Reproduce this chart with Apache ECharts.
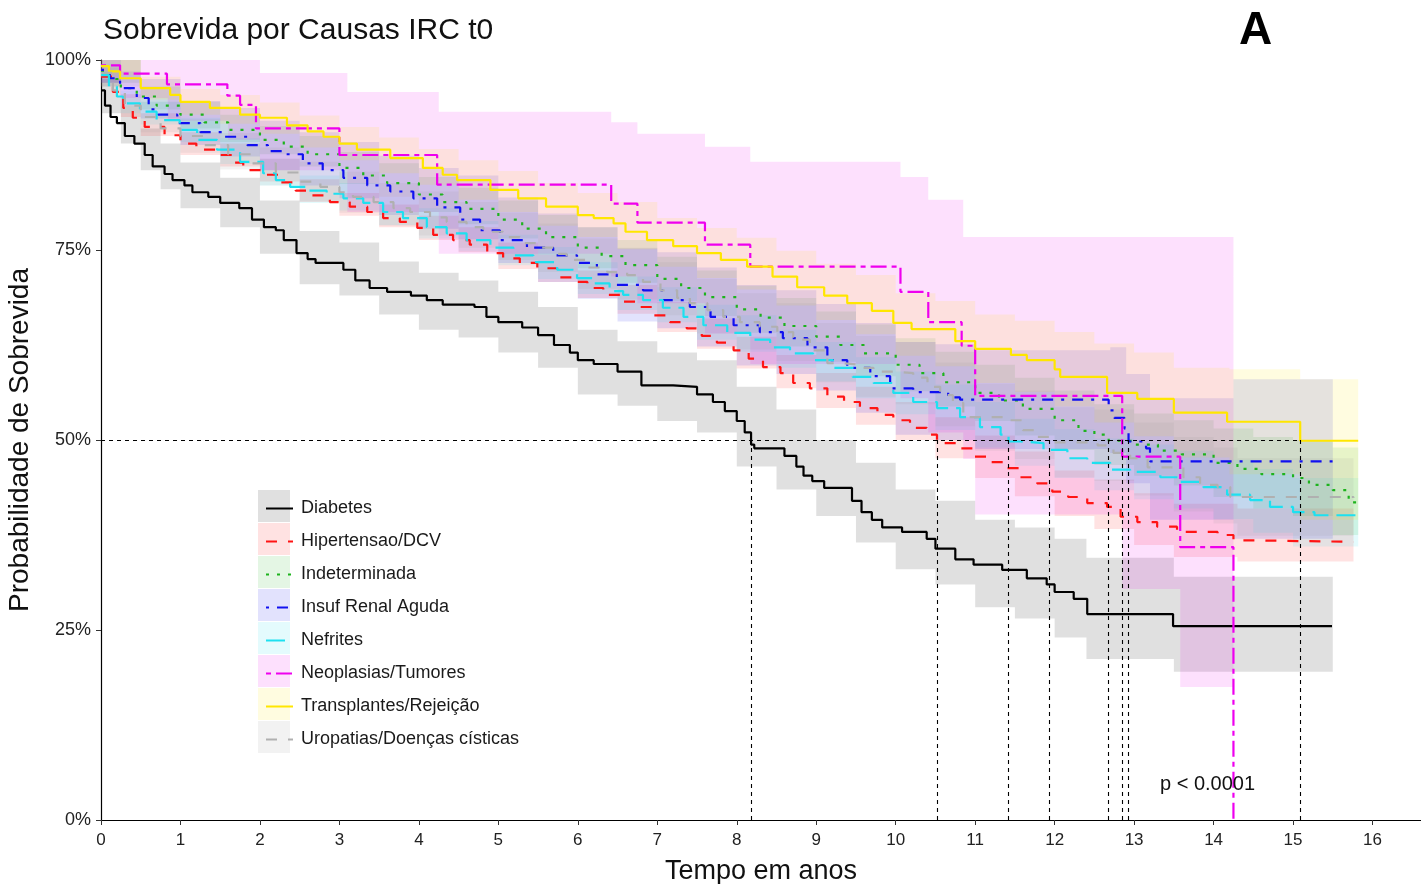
<!DOCTYPE html>
<html><head><meta charset="utf-8">
<script src="https://cdn.jsdelivr.net/npm/echarts@6/dist/echarts.min.js"></script>
<style>html,body{margin:0;padding:0;background:#fff}#c{width:1421px;height:884px}</style>
</head><body><div id="c"></div>
<script>
// ---------- labels ----------
const names = ['Diabetes','Hipertensao/DCV','Indeterminada','Insuf Renal Aguda','Nefrites','Neoplasias/Tumores','Transplantes/Rejeição','Uropatias/Doenças císticas'];
const xTicks = [0,1,2,3,4,5,6,7,8,9,10,11,12,13,14,15,16];
const yTicks = [0,25,50,75,100];
const medians = [8.18,10.52,11.42,11.93,12.68,12.85,12.93,15.09];

// ---------- survival curves [time, %] ----------
const diabetes = [[0,96],[0.05,94],[0.12,92.5],[0.2,91.7],[0.3,90],[0.42,89],[0.55,87.5],[0.65,86],[0.8,85],[0.9,84.2],[1.05,83.5],[1.15,82.6],[1.35,82],[1.5,81.2],[1.74,80.5],[1.9,79],[2.05,78],[2.2,77.6],[2.3,76.3],[2.46,74.6],[2.6,73.8],[2.7,73.3],[3.05,72.4],[3.2,71],[3.38,70],[3.6,69.5],[3.9,69],[4.1,68.4],[4.3,67.8],[4.7,67.5],[4.85,66.2],[5.0,65.5],[5.3,64.8],[5.5,63.8],[5.7,62.5],[5.9,61.5],[6.0,60.5],[6.2,60],[6.5,59],[6.8,57.2],[7.2,57],[7.5,56],[7.7,55],[7.85,53.8],[8.0,52.5],[8.1,51],[8.18,49.4],[8.22,48.9],[8.6,47.9],[8.75,46.5],[8.84,45.3],[8.95,44.6],[9.1,43.7],[9.45,42],[9.57,40.5],[9.7,39.5],[9.83,38.5],[10.08,37.9],[10.39,37],[10.5,35.7],[10.75,34.3],[10.98,33.6],[11.34,32.9],[11.65,31.8],[11.9,31],[12.0,30],[12.24,29.1],[12.41,27.1],[13.49,25.5],[15.49,25.5]];
const hipertensao = [[0,97.8],[0.15,95.8],[0.28,93.7],[0.4,92.4],[0.55,91.2],[0.8,90.1],[1.0,89],[1.2,88.2],[1.46,87.5],[1.65,86.5],[1.79,85.5],[2.05,84.9],[2.25,83.9],[2.45,82.8],[2.63,82.2],[2.88,81.3],[3.13,80.7],[3.35,80],[3.55,79.2],[3.76,78.7],[3.98,77.9],[4.18,77],[4.43,76.3],[4.64,75.7],[4.86,74.6],[5.06,73.9],[5.27,73.3],[5.49,72.6],[5.74,71.4],[5.94,70.8],[6.12,70],[6.32,69.1],[6.53,68.2],[6.76,67.5],[6.95,66.4],[7.16,65.5],[7.37,64.7],[7.56,63.7],[7.75,62.8],[7.96,61.8],[8.15,60.7],[8.33,59.6],[8.55,58.8],[8.71,57.5],[8.92,56.8],[9.14,55.7],[9.35,55],[9.55,54.2],[9.77,53.3],[9.97,52.6],[10.18,51.6],[10.39,50.7],[10.52,49.6],[10.77,48.9],[10.98,47.8],[11.19,47.1],[11.38,46.3],[11.57,45.1],[11.78,44.3],[11.97,43.2],[12.17,42.5],[12.41,41.7],[12.66,41.2],[12.83,39.9],[13.04,39.2],[13.29,38.6],[13.54,37.9],[14.05,37.5],[14.25,36.8],[14.46,36.6],[15.76,36.6]];
const indeterminada = [[0,98.5],[0.1,97.5],[0.25,96.3],[0.45,95.2],[0.7,94],[1.0,92.8],[1.3,91.8],[1.6,90.8],[2.0,89.5],[2.3,88.6],[2.6,87.6],[3.0,85.8],[3.3,84.8],[3.6,83.8],[4.0,82.3],[4.3,81.3],[4.6,80.4],[5.0,79],[5.3,77.8],[5.6,76.7],[6.0,75.3],[6.3,74.2],[6.6,73],[7.0,71.2],[7.3,70],[7.6,68.8],[8.0,67.2],[8.3,66.1],[8.6,65],[9.0,63.6],[9.3,62.5],[9.6,61.4],[10.0,59.9],[10.3,58.8],[10.6,57.6],[11.0,56.2],[11.3,55.2],[11.6,54.1],[12.0,52.6],[12.3,51.2],[12.5,50.7],[12.68,49.9],[13.0,49.4],[13.3,48.6],[13.6,48.1],[14.0,47],[14.3,46.2],[14.6,45.5],[15.0,45],[15.2,44.1],[15.5,43.4],[15.7,41.8],[15.82,41.8]];
const insufRenal = [[0,98.7],[0.11,97.6],[0.24,96.3],[0.45,95],[0.6,93.5],[0.72,92.8],[0.96,91.7],[1.25,90.5],[1.55,89.9],[1.84,88.8],[2.1,88],[2.3,87.6],[2.54,86.4],[2.79,85.5],[3.05,84.5],[3.35,83.5],[3.64,82.7],[3.93,81.8],[4.23,80.6],[4.52,79],[4.77,77.6],[5.02,76.3],[5.36,75.3],[5.69,74.3],[5.99,73.3],[6.24,71.8],[6.49,70.4],[6.82,69.7],[7.07,68.4],[7.41,67.5],[7.67,66.2],[7.96,65.1],[8.29,64.2],[8.58,63.4],[8.89,62.2],[9.14,60.5],[9.39,59.5],[9.68,58.4],[9.93,56.8],[10.22,56.3],[10.66,55.6],[10.81,55.3],[12.68,53.9],[12.75,52.9],[12.88,51.5],[12.93,49.8],[13.15,48.9],[13.2,47.2],[15.5,47.2]];
const nefrites = [[0,98],[0.1,96.5],[0.2,95.2],[0.28,94.3],[0.49,93.2],[0.7,92.1],[0.99,90.8],[1.21,89.5],[1.46,88.2],[1.75,86.6],[2.04,85.1],[2.2,84.2],[2.38,83.3],[2.6,82.8],[2.84,82.4],[3.05,81.8],[3.3,81.2],[3.55,80],[3.8,79.2],[4.1,78],[4.35,77.2],[4.6,76.3],[4.9,75.3],[5.19,74.3],[5.44,73.4],[5.74,72.4],[5.99,71.3],[6.19,70.6],[6.4,69.6],[6.57,69.1],[6.82,68.4],[7.07,67.4],[7.33,66.2],[7.58,65.1],[7.88,64.1],[8.17,63.2],[8.42,62.2],[8.67,61.4],[8.96,60.5],[9.21,59.5],[9.46,58.3],[9.72,57.5],[9.97,56.2],[10.22,55],[10.52,54.2],[10.81,53],[11.06,51.7],[11.32,50.7],[11.42,49.8],[11.57,49.6],[11.86,48.7],[12.16,47.6],[12.41,47],[12.7,46.1],[12.95,45.8],[13.33,45.1],[13.58,44.5],[13.87,43.8],[14.17,42.8],[14.46,42.1],[14.71,41.2],[15.0,40.5],[15.27,40.1],[15.82,40.1]];
const neoplasias = [[0,99.3],[0.24,98.2],[0.83,96.8],[1.59,95.3],[1.75,94.1],[1.95,91.0],[3.0,87.5],[4.23,83.6],[6.42,81.1],[6.75,78.6],[7.6,75.7],[8.17,72.8],[10.06,69.5],[10.41,65.5],[10.83,62.4],[11.0,55.8],[12.85,47.8],[13.58,35.9],[14.25,0]];
const transplantes = [[0,99.2],[0.1,98.5],[0.24,97.6],[0.5,96.3],[0.87,95.4],[1.0,94.5],[1.37,93.7],[1.75,92.8],[2.0,92.4],[2.34,91.4],[2.6,90.6],[2.8,89.9],[3.0,89],[3.22,88.2],[3.64,87.1],[4.05,85.8],[4.3,84.9],[4.48,84.2],[4.9,82.9],[5.25,81.8],[5.6,80.7],[6.0,79.6],[6.2,79.2],[6.45,78.5],[6.6,77.4],[6.87,76.3],[7.2,75.5],[7.5,74.6],[7.8,73.7],[8.13,72.8],[8.45,71.5],[8.76,70.1],[9.1,69],[9.39,68],[9.7,67],[9.97,65.4],[10.2,64.6],[10.75,63],[11.0,62],[11.45,61.2],[11.65,60.5],[12.0,59.3],[12.07,58.3],[12.66,56.2],[13.04,55.4],[13.5,53.6],[14.17,52.4],[15.09,49.9],[15.82,49.9]];
const uropatias = [[0,98.3],[0.15,96],[0.3,94],[0.5,92.5],[0.75,91],[1.0,90],[1.3,88.8],[1.6,87.6],[1.9,86.4],[2.2,85.2],[2.5,84],[2.76,83.3],[3.0,82.6],[3.17,82],[3.43,81.3],[3.68,80.5],[3.89,80],[4.14,79.3],[4.35,78.7],[4.6,78],[4.81,77.4],[5.06,76.7],[5.27,75.9],[5.53,75.3],[5.7,74.5],[5.86,73.7],[6.12,72.7],[6.37,72.1],[6.62,71.7],[6.82,70.8],[7.04,69.7],[7.25,68.7],[7.41,68],[7.63,67.1],[7.83,66.2],[8.04,65.5],[8.29,64.9],[8.51,64.2],[8.71,63.2],[8.92,61.8],[9.14,60.1],[9.34,59.9],[9.55,59.5],[9.72,59],[9.97,58.8],[10.22,58.2],[10.4,57],[10.56,55.9],[10.72,54.9],[10.85,53],[11.4,52.6],[11.6,51.3],[11.78,50.4],[11.93,49.7],[12.54,49.3],[12.74,48.3],[12.95,47.6],[13.17,46.4],[13.62,45.1],[13.83,44.1],[14.05,43.8],[14.21,42.5],[15.76,42.4]];

// ---------- confidence bands [time, lower %, upper %] (last row = end) ----------
const bandDiabetes = [[0,93,97.5],[0.25,89,94],[0.5,85.5,91],[0.75,83,89],[1,80.5,86.5],[1.5,78,84.5],[2,74.5,81.5],[2.5,70.5,77.5],[3,69,76],[3.5,66.5,73.5],[4,64.5,72],[4.5,63.5,71],[5,61.5,69.5],[5.5,59.5,67.5],[6,56,64.5],[6.5,54.5,63],[7,52.5,61.5],[7.5,51,60.5],[8,46.5,57],[8.5,43.5,54],[9,40,50],[9.5,36.5,47],[10,33,43.5],[10.5,31,42],[11,28,39.5],[11.5,26.5,38.5],[12,24,37],[12.4,21.2,34.5],[13.5,19.5,32],[15.5,19.5,32]];
const bandHipertensao = [[0,96.5,99],[0.25,92.5,95.5],[0.5,90,93],[1,87.5,90.5],[1.5,86,89],[2,84,87],[2.5,81.3,84.3],[3,79.5,82.5],[3.5,78,81],[4,76.3,79.5],[4.5,74.7,78],[5,72.5,76],[5.5,70.8,74.4],[6,68.7,72.3],[6.5,66.6,70.4],[7,64.2,68.2],[7.5,62,66],[8,59.4,63.6],[8.5,56.8,61.2],[9,54.2,58.8],[9.5,52,57],[10,50,55],[10.5,47.6,53],[11,45,50.6],[11.5,42.6,48.5],[12,40,46],[12.5,38.3,44.8],[13,36.2,43],[13.5,34.6,41.6],[14.3,34,41],[15.76,34,41]];
const bandIndeterminada = [[0,97,100],[0.5,93.5,96.5],[1,91,94.5],[1.5,89.2,92.8],[2,87.6,91.3],[2.5,86,90],[3,83.7,87.9],[3.5,82,86.4],[4,80,84.6],[4.5,78.4,83.2],[5,76.5,81.5],[5.5,74.4,79.6],[6,72.6,78],[6.5,70.7,76.3],[7,68.3,74.1],[7.5,66.3,72.3],[8,64.1,70.3],[8.5,62.3,68.7],[9,60.3,66.9],[9.5,58.4,65.2],[10,56.4,63.4],[10.5,54.4,61.6],[11,52.5,59.9],[11.5,50.6,58.2],[12,48.7,56.5],[12.5,46.7,54.7],[13,45.3,53.5],[13.5,44,52.6],[14,42.5,51.5],[14.5,41,50.4],[15,40,50],[15.5,37.5,49],[15.82,37.5,49]];
const bandInsufRenal = [[0,97,100],[0.25,94,98.5],[0.5,92.3,97.5],[1,88.8,94.6],[1.5,87.3,93.7],[2,85.5,92],[2.5,83.5,90.5],[3,81.8,89.2],[3.5,79.6,87.4],[4,77.8,85.8],[4.5,76.4,84.8],[5,73.3,81.9],[5.5,70.8,79.8],[6,68.6,78],[6.5,65.6,75.2],[7,64.7,74.7],[7.5,62.3,72.7],[8,59.8,70.4],[8.5,58.7,69.7],[9,56.5,67.9],[9.5,53.6,65.4],[10,50.7,62.9],[10.5,50,62.6],[11,48.8,61.8],[12.7,48.3,62.2],[12.9,44.3,58.7],[13.2,39.5,55.5],[14.25,37,58],[15.5,37,58]];
const bandNefrites = [[0,96.5,99.5],[0.25,93,96],[0.5,91.5,94.5],[1,89.2,92.4],[1.5,86.3,89.7],[2,83.5,87],[2.5,81.2,84.8],[3,80.2,83.8],[3.5,78.3,82],[4,76.5,80.5],[4.5,74.8,78.8],[5,73,77],[5.5,71.2,75.4],[6,69.2,73.4],[6.5,67.1,71.5],[7,65.5,70.1],[7.5,63.2,67.8],[8,61.6,66.4],[8.5,59.5,64.5],[9,57.7,62.9],[9.5,55.5,60.9],[10,53.4,59],[10.5,51.3,57.3],[11,49,55],[11.5,46.6,52.8],[12,45,51.4],[12.5,43.4,50.2],[13,42.2,49.4],[13.5,41,48.6],[14,39.6,47.4],[14.5,37.8,46.2],[15,36,45],[15.82,36,45]];
const bandNeoplasias = [[0,97,100],[0.24,95,100],[0.84,92,100],[1.6,89.5,100],[2.0,85.5,98.3],[3.1,80,95.8],[4.25,74.5,93.2],[6.42,71.5,91.8],[6.75,68,90.3],[7.6,64,88.6],[8.17,60,86.6],[10.06,55.5,84.6],[10.41,51,81.6],[10.85,47.5,76.7],[11.0,40.2,76.7],[12.85,30.4,76.7],[13.58,17.5,76.7],[14.25,17.5,76.7]];
const bandTransplantes = [[0,98,100],[0.5,94.8,97.8],[1,92.8,96.2],[1.5,91.6,95.4],[2,90.3,94.4],[2.5,88.5,92.7],[3,86.8,91.2],[3.5,85.1,89.8],[4,83.6,88.3],[4.5,81.6,86.8],[5,80,85.4],[5.5,78.2,83.8],[6,76.7,82.5],[6.5,75.1,81.3],[7,72.8,79.2],[7.5,71.3,77.9],[8,69.8,76.6],[8.5,67.7,74.9],[9,65.8,73.2],[9.5,63.9,71.7],[10,61.1,69.3],[10.5,59.7,68.3],[11,57.5,66.5],[11.5,56.3,65.7],[12,54.4,64.2],[12.5,52.3,62.7],[13,50.5,61.5],[13.5,47.7,59.5],[14.2,45.5,59.3],[15.09,39.5,58],[15.82,39.5,58]];
const bandUropatias = [[0,96.5,100],[0.5,90.5,94.5],[1,87.8,92.2],[1.5,85.6,90.4],[2,83.5,88.5],[2.5,81.4,86.6],[3,79.9,85.3],[3.5,78.2,83.8],[4,76.9,82.7],[4.5,75.3,81.3],[5,73.7,79.9],[5.5,72.1,78.5],[6,69.9,76.5],[6.5,68.5,75.3],[7,66.4,73.4],[7.5,64,71.2],[8,61.9,69.3],[8.5,60.4,68],[9,57.6,65.4],[9.5,55.7,63.7],[10,54.7,62.9],[10.5,51.8,60.2],[11,48.6,57.4],[11.5,47.5,56.5],[12,45.1,54.3],[12.5,44.6,54],[13,42.7,52.3],[13.5,40.6,50.4],[14,39,49],[14.3,37.4,47.6],[15.76,37.4,47.6]];

const curves = [diabetes, hipertensao, indeterminada, insufRenal, nefrites, neoplasias, transplantes, uropatias];
const bands = [bandDiabetes, bandHipertensao, bandIndeterminada, bandInsufRenal, bandNefrites, bandNeoplasias, bandTransplantes, bandUropatias];

// ---------- styles ----------
const colors = ['#000000','#ff1414','#1db31d','#1010f0','#1ee0f0','#ee00ee','#ffe600','#b0b0b0'];
const bandFill = ['rgba(0,0,0,0.12)','rgba(255,20,20,0.12)','rgba(29,179,29,0.12)','rgba(16,16,240,0.12)','rgba(30,224,240,0.12)','rgba(238,0,238,0.12)','rgba(255,230,0,0.12)','rgba(150,150,150,0.12)'];
const dashes = ['solid',[11,11],[3,8],[3,8,11,8],[19,8],[5,5,16,5],'solid',[11,11]];
const FONT = 'Liberation Sans, Arial, sans-serif';

function bandSeries(rows, fill){
  return {
    type:'custom', name:'band', data: rows, encode:{x:0, y:[1,2]}, z:1, silent:true, clip:true,
    renderItem: function(params, api){
      if (params.dataIndex !== 0) return null;
      const up = [], lo = [];
      for (let i = 0; i < rows.length - 1; i++){
        const a = rows[i], b = rows[i+1];
        up.push(api.coord([a[0], a[2]]), api.coord([b[0], a[2]]));
        lo.push(api.coord([a[0], a[1]]), api.coord([b[0], a[1]]));
      }
      return {type:'polygon', shape:{points: up.concat(lo.reverse())}, style:{fill: fill, stroke:null}};
    }
  };
}

const series = [];
bands.forEach((b,i) => series.push(bandSeries(b, bandFill[i])));
curves.forEach((c,i) => {
  const s = {
    type:'line', name: names[i], data: c, step:'end', symbol:'none', z:3,
    lineStyle:{color: colors[i], width: 2.2, type: dashes[i]},
    itemStyle:{color: colors[i]}
  };
  if (i === 0){
    const ml = [[{coord:[0,50]},{coord:[medians[medians.length-1],50]}]];
    medians.forEach(m => ml.push([{coord:[m,0]},{coord:[m,50]}]));
    s.markLine = {silent:true, symbol:['none','none'], label:{show:false}, z:4,
      lineStyle:{color:'#000', width:1.1, type:[4,4]}, data: ml};
  }
  series.push(s);
});

const legendBg = names.map((n,i) => ({
  type:'rect', left:258, top:490 + 33*i, z:0,
  shape:{width:32, height:32}, style:{fill: bandFill[i]}
}));

const chart = echarts.init(document.getElementById('c'), null, {renderer:'canvas'});
chart.setOption({
  animation:false,
  backgroundColor:'#fff',
  title:{text:'Sobrevida por Causas IRC t0', left:103, top:16, padding:0,
    textStyle:{fontSize:30, fontWeight:'normal', color:'#111', fontFamily:FONT}},
  grid:{left:101, right:0, top:60, bottom:64, outerBoundsMode:'none', containLabel:false},
  xAxis:{type:'value', min:0, max:16.61, interval:1,
    name:'Tempo em anos', nameLocation:'middle', nameGap:38,
    nameTextStyle:{fontSize:27, color:'#111', fontFamily:FONT},
    axisLine:{show:true, lineStyle:{color:'#000', width:1.2}},
    axisTick:{show:true, length:5, lineStyle:{color:'#333'}, customValues:xTicks},
    axisLabel:{fontSize:17, color:'#222', fontFamily:FONT, margin:12, customValues:xTicks},
    splitLine:{show:false}},
  yAxis:{type:'value', min:0, max:100, interval:25,
    name:'Probabilidade de Sobrevida', nameLocation:'middle', nameGap:64,
    nameTextStyle:{fontSize:28, color:'#111', fontFamily:FONT},
    axisLine:{show:true, lineStyle:{color:'#000', width:1.2}},
    axisTick:{show:true, length:5, lineStyle:{color:'#333'}},
    axisLabel:{fontSize:18, color:'#222', fontFamily:FONT, margin:10, formatter: v => v + '%'},
    splitLine:{show:false}},
  legend:{data:names, orient:'vertical', left:260, top:487, itemWidth:27, itemHeight:14, itemGap:0,
    selectedMode:false, z:5,
    itemStyle:{opacity:0, borderWidth:0},
    textStyle:{fontSize:18, lineHeight:33, height:33, color:'#1a1a1a', fontFamily:FONT, padding:[0,0,0,3]}},
  graphic: legendBg.concat([
    {type:'text', left:1239, top:8, z:10, style:{text:'A', font:'bold 46px ' + FONT, fill:'#000'}},
    {type:'text', left:1160, top:774, z:10, style:{text:'p < 0.0001', font:'20px ' + FONT, fill:'#111'}}
  ]),
  series: series
});
</script>
</body></html>
